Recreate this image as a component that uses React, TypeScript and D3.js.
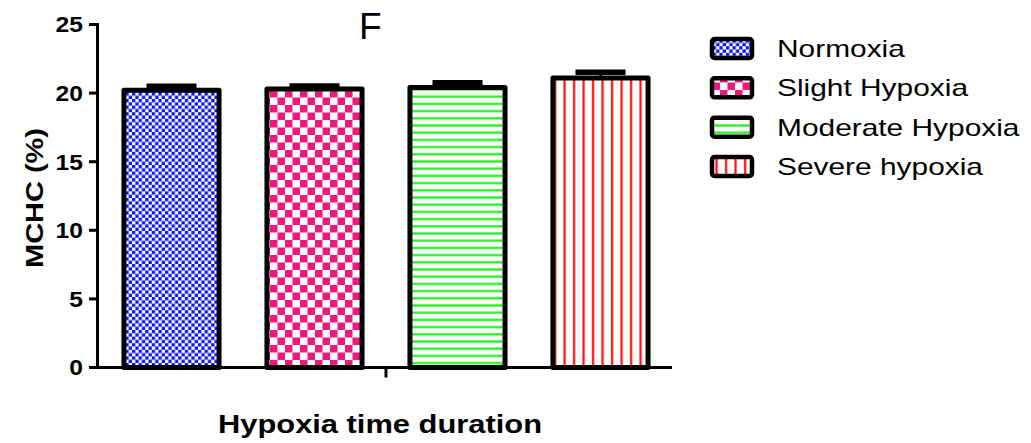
import React from 'react';
import * as d3 from 'd3';

// MCHC by hypoxia group
const groups = ['Normoxia', 'Slight Hypoxia', 'Moderate Hypoxia', 'Severe hypoxia'];
const means = [20.2, 20.3, 20.4, 21.1];
const sems = [0.3, 0.22, 0.35, 0.42];
const yTicks = [0, 5, 10, 15, 20, 25];
const patternIds = ['pat-normoxia', 'pat-slight', 'pat-moderate', 'pat-severe'];

const W = 1031;
const H = 443;
const FONT = 'Arial, "Liberation Sans", sans-serif';

export default function App() {
  const x = d3.scaleBand<string>()
    .domain(groups)
    .range([100, 672])
    .paddingInner(0.3)
    .paddingOuter(0.15);
  const y = d3.scaleLinear().domain([0, 25]).range([367.5, 24.5]);
  const bw = x.bandwidth();
  const barStroke = 5;

  const legendY = d3.scalePoint<string>().domain(groups).range([48.5, 166.5]);

  return (
    <svg width={W} height={H} style={{ position: 'absolute', left: 0, top: 0, display: 'block', background: '#fff' }}
      fontFamily={FONT}>
      <defs>
        <pattern id="pat-normoxia" patternUnits="userSpaceOnUse" width={6.6} height={6.6}>
          <rect width={6.6} height={6.6} fill="#fff" />
          <rect width={3.3} height={3.3} fill="#0a14f5" />
          <rect x={3.3} y={3.3} width={3.3} height={3.3} fill="#0a14f5" />
        </pattern>
        <pattern id="pat-slight" patternUnits="userSpaceOnUse" width={15} height={15}>
          <rect width={15} height={15} fill="#fff" />
          <rect width={7.5} height={7.5} fill="#f0187f" />
          <rect x={7.5} y={7.5} width={7.5} height={7.5} fill="#f0187f" />
        </pattern>
        <pattern id="pat-moderate" patternUnits="userSpaceOnUse" width={10} height={7.2}>
          <rect width={10} height={7.2} fill="#fff" />
          <rect y={2} width={10} height={2.2} fill="#1ef01e" />
        </pattern>
        <pattern id="pat-severe" patternUnits="userSpaceOnUse" width={9.5} height={10}>
          <rect width={9.5} height={10} fill="#fff" />
          <rect x={3} width={2.2} height={10} fill="#ff0a0a" />
        </pattern>
      </defs>

      {/* title */}
      <text x={359} y={39} fontSize={37}>F</text>

      {/* bars */}
      {groups.map((g, i) => {
        const x0 = x(g)!;
        const top = y(means[i]);
        const errTop = y(means[i] + sems[i]);
        const cx = x0 + bw / 2;
        return (
          <g key={g}>
            <line x1={cx} x2={cx} y1={top} y2={errTop} stroke="#000" strokeWidth={3} />
            <line x1={cx - bw / 4} x2={cx + bw / 4} y1={errTop} y2={errTop} stroke="#000" strokeWidth={5.5} />
            <rect
              x={x0 + barStroke / 2}
              y={top}
              width={bw - barStroke}
              height={y(0) - top}
              fill={`url(#${patternIds[i]})`}
              stroke="#000"
              strokeWidth={barStroke}
              strokeLinejoin="round"
            />
          </g>
        );
      })}

      {/* y axis */}
      <line x1={97.5} x2={97.5} y1={y(25) - 1.5} y2={y(0) + 1.5} stroke="#000" strokeWidth={3} />
      {yTicks.map(t => (
        <g key={t}>
          <line x1={89} x2={97.5} y1={y(t)} y2={y(t)} stroke="#000" strokeWidth={3} />
          <text
            transform={`translate(83,${y(t)}) scale(1.12,1)`}
            dy="0.36em"
            textAnchor="end"
            fontSize={22}
            fontWeight="bold"
          >{t}</text>
        </g>
      ))}

      {/* x axis */}
      <line x1={96} x2={672} y1={y(0)} y2={y(0)} stroke="#000" strokeWidth={3} />
      <line x1={386} x2={386} y1={y(0)} y2={y(0) + 10} stroke="#000" strokeWidth={3} />

      {/* axis titles */}
      <text
        x={380}
        y={433}
        textAnchor="middle"
        fontSize={25}
        fontWeight="bold"
        textLength={324}
        lengthAdjust="spacingAndGlyphs"
      >Hypoxia time duration</text>
      <text
        transform="translate(43,198) rotate(-90)"
        textAnchor="middle"
        fontSize={23}
        fontWeight="bold"
        textLength={140}
        lengthAdjust="spacingAndGlyphs"
      >MCHC (%)</text>

      {/* legend */}
      {groups.map((g, i) => {
        const cy = legendY(g)!;
        return (
          <g key={g}>
            <rect x={712} y={cy - 9.5} width={40} height={19} rx={2.5}
              fill={`url(#${patternIds[i]})`} stroke="#000" strokeWidth={4.5} />
            <text transform={`translate(777,${cy + 8.5}) scale(1.3,1)`} fontSize={23}>{g}</text>
          </g>
        );
      })}
    </svg>
  );
}
